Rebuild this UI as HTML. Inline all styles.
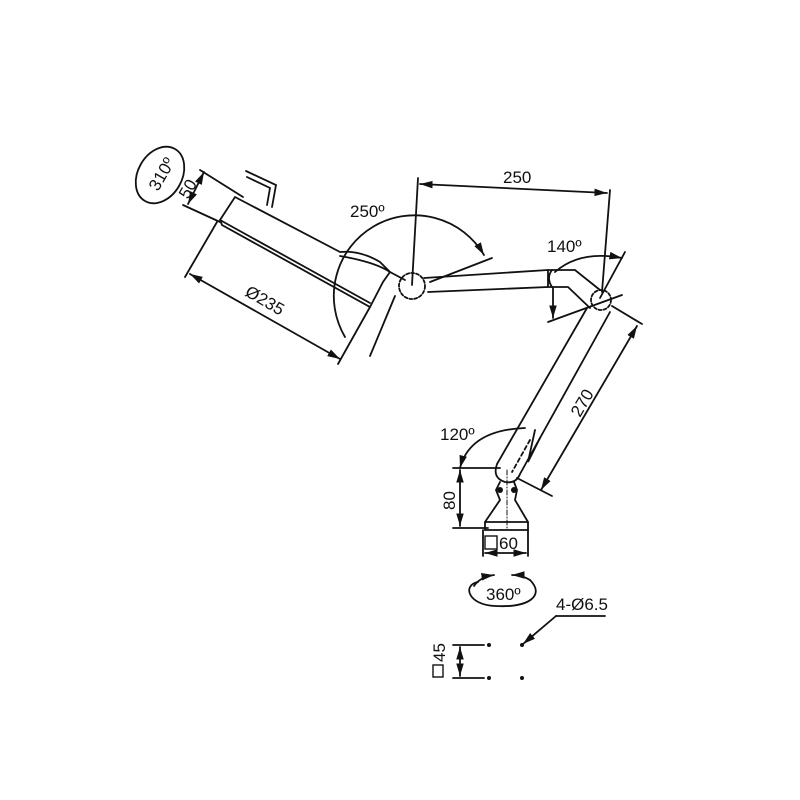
<!DOCTYPE html>
<html><head><style>body{margin:0;background:#fff}svg{display:block}text{font-family:"Liberation Sans",sans-serif;fill:#111}</style></head>
<body>
<svg width="800" height="800" viewBox="0 0 800 800" xmlns="http://www.w3.org/2000/svg">
<defs><marker id="a" viewBox="0 0 10 10" refX="10" refY="5" markerWidth="7" markerHeight="7" orient="auto-start-reverse"><path d="M0,2 L10,5 L0,8z" fill="#111"/></marker></defs>
<g stroke="#111" stroke-width="1.8" fill="none" stroke-linecap="round">
<!-- 310 ellipse -->
<ellipse cx="160" cy="175" rx="22" ry="30" transform="rotate(30 160 175)"/>
<!-- handle -->
<path d="M246,171 L276,185 L272,207"/><path d="M247,177 L270,188 L267,205"/>
<!-- head -->
<path d="M235,197 L340,252 Q360,250 380,262 L390,272 L383,282 L370,307 L222,225 L220,220 Z"/>
<path d="M220,220 L370,303"/>
<path d="M340,256 Q375,262 390,272 L405,280"/>
<!-- 50 dim -->
<path d="M200,170 L243,197"/><path d="M183,205 L220,222"/>
<path d="M204,172 L188,204" marker-start="url(#a)" marker-end="url(#a)"/>
<!-- 235 -->
<path d="M217,222 L185,277"/><path d="M370,307 L338,364"/><path d="M395,296 L370,356"/>
<path d="M190,274 L340,359" marker-start="url(#a)" marker-end="url(#a)"/>
<!-- ball 1 -->
<circle cx="412" cy="286" r="13" stroke-dasharray="3 2"/>
<!-- 250 arc -->
<path d="M345,337 A72,72 0 1 1 484,255" marker-end="url(#a)"/>
<path d="M412,285 L418,178"/><path d="M430,282 L492,258"/>
<path d="M420,184 L607,193" marker-start="url(#a)" marker-end="url(#a)"/>
<path d="M610,190 L602,292"/>
<!-- arm 1 -->
<path d="M424,278 L548,270 L575,270 L600,290"/>
<path d="M428,292 L548,287 L568,287 L590,308"/>
<path d="M548,270 L548,287"/><path d="M552,270 Q546,278 552,287"/>
<!-- 140 -->
<path d="M555,272 Q580,250 622,258" marker-end="url(#a)"/>
<path d="M553,288 L553,318" marker-end="url(#a)"/>
<path d="M548,322 L622,295"/><path d="M600,298 L625,252"/>
<circle cx="601" cy="300" r="10" stroke-dasharray="3 2"/>
<!-- arm 2 -->
<path d="M587,308 L497,464 Q492,478 505,482 Q516,484 520,474 L610,312"/>
<path d="M535,430 L528,462 L540,438" />
<path d="M530,440 L512,472" stroke-dasharray="4 3"/>
<!-- 270 -->
<path d="M612,306 L642,324"/><path d="M517,478 L552,496"/>
<path d="M637,326 L541,490" marker-start="url(#a)" marker-end="url(#a)"/>
<!-- 120 -->
<path d="M460,468 Q470,430 525,428" marker-start="url(#a)"/>
<path d="M453,468 L500,468"/>
<!-- base -->
<path d="M500,482 L496,490 L500,500 L485,522 L485,530 L528,530 L528,522 L515,500 L517,490 L514,482"/>
<path d="M485,522 L528,522"/><path d="M507,470 L507,530" stroke-dasharray="5 2 1 2" stroke-width="1"/>
<path d="M453,528 L488,528"/>
<path d="M460,470 L460,526" marker-start="url(#a)" marker-end="url(#a)"/>
<path d="M483,530 L483,556"/><path d="M528,530 L528,556"/>
<path d="M485,553 L526,553" marker-start="url(#a)" marker-end="url(#a)"/>
<rect x="485" y="536" width="12" height="13" stroke-width="1.4"/>
<!-- 360 -->
<path d="M478,582 C462,585 468,605 495,606 C530,608 545,595 530,580" />
<path d="M474,586 Q480,577 494,575" marker-end="url(#a)"/>
<path d="M530,580 Q522,575 512,575" marker-end="url(#a)"/>
<!-- 4-6.5 -->
<path d="M556,616 L605,616"/><path d="M556,616 L523,644" marker-end="url(#a)"/>
<!-- 45 -->
<path d="M453,645 L484,645"/><path d="M453,678 L484,678"/>
<path d="M460,647 L460,676" marker-start="url(#a)" marker-end="url(#a)"/>
<rect x="433" y="665" width="10" height="12" stroke-width="1.4"/>
</g>
<g fill="#111"><circle cx="489" cy="645" r="2"/><circle cx="522" cy="645" r="2"/><circle cx="489" cy="678" r="2"/><circle cx="522" cy="678" r="2"/>
<circle cx="500" cy="490" r="3"/><circle cx="514" cy="490" r="3"/></g>
<g font-size="17">
<text transform="translate(158,192) rotate(-60)">310º</text>
<text transform="translate(188,200) rotate(-60)">50</text>
<text transform="translate(244,295) rotate(30)">Ø235</text>
<text x="350" y="217">250º</text>
<text x="503" y="183">250</text>
<text x="547" y="252">140º</text>
<text transform="translate(580,418) rotate(-60)">270</text>
<text x="440" y="440">120º</text>
<text transform="translate(455,510) rotate(-90)">80</text>
<text x="499" y="549">60</text>
<text x="486" y="600">360º</text>
<text x="556" y="610">4-Ø6.5</text>
<text transform="translate(445,662) rotate(-90)">45</text>
</g>
</svg>
</body></html>
